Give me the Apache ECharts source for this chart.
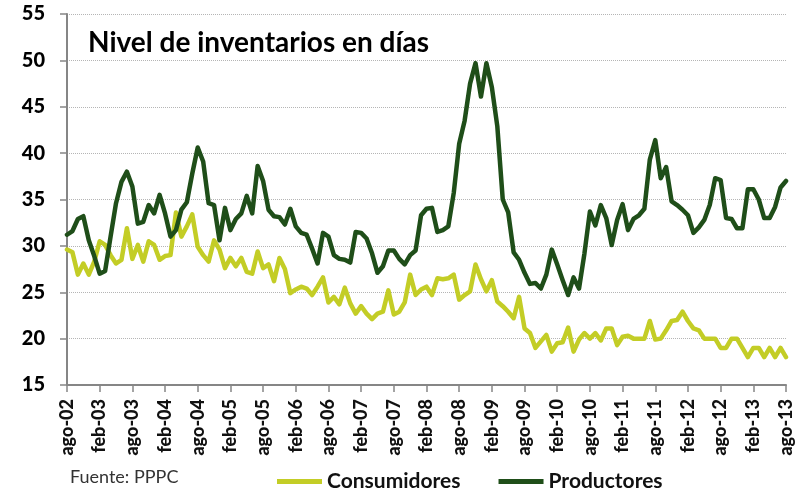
<!DOCTYPE html>
<html>
<head>
<meta charset="utf-8">
<title>Nivel de inventarios en días</title>
<script src="https://cdn.jsdelivr.net/npm/echarts@6/dist/echarts.min.js"></script>
<style>
  html, body { margin: 0; padding: 0; background: #fff; }
  #chart { width: 807px; height: 490px; }
</style>
</head>
<body>
<div id="chart"></div>
<script>
// meses en español, serie mensual ago-02 .. ago-13
const monthNames = ['ene', 'feb', 'mar', 'abr', 'may', 'jun', 'jul', 'ago', 'sep', 'oct', 'nov', 'dic']
const startYear = 2002
const startMonth = 7 // ago
const monthCount = 133

const consumidores = [
  29.6, 29.3, 26.9, 28.1, 26.9, 28.3, 30.5, 30.1, 29.0, 28.1,
  28.5, 31.9, 28.6, 30.1, 28.3, 30.5, 30.1, 28.5, 28.9, 29.0,
  33.6, 31.0, 32.1, 33.4, 29.9, 29.0, 28.3, 30.6, 29.6, 27.6,
  28.7, 27.8, 28.7, 27.2, 27.0, 29.4, 27.6, 28.0, 26.2, 28.7,
  27.5, 24.9, 25.3, 25.6, 25.4, 24.7, 25.6, 26.6, 23.9, 24.5,
  23.7, 25.5, 23.8, 22.7, 23.5, 22.7, 22.1, 22.7, 22.9, 25.2,
  22.6, 22.9, 23.9, 26.9, 24.7, 25.3, 25.6, 24.7, 26.5, 26.4,
  26.5, 26.9, 24.2, 24.7, 25.1, 28.0, 26.4, 25.1, 26.3, 24.0,
  23.5, 22.9, 22.2, 24.5, 21.1, 20.6, 19.0, 19.7, 20.4, 18.6,
  19.5, 19.6, 21.2, 18.6, 19.9, 20.6, 20.0, 20.6, 19.8, 21.1,
  21.1, 19.3, 20.2, 20.3, 20.0, 20.0, 20.0, 21.9, 19.9, 20.0,
  20.9, 21.9, 22.0, 22.9, 21.9, 21.1, 20.9, 20.0, 20.0, 20.0,
  19.0, 19.0, 20.0, 20.0, 19.0, 18.0, 19.0, 19.0, 18.0, 19.0,
  18.0, 19.0, 18.0
]

const productores = [
  31.2, 31.6, 32.9, 33.2, 30.6, 28.9, 27.0, 27.3, 31.0, 34.6,
  36.9, 38.0, 36.4, 32.4, 32.6, 34.4, 33.5, 35.5, 33.5, 31.0,
  31.7, 33.9, 34.7, 37.8, 40.6, 39.1, 34.6, 34.4, 30.6, 34.1,
  31.7, 32.9, 33.5, 35.4, 33.5, 38.6, 37.0, 33.9, 33.2, 33.1,
  32.3, 34.0, 32.1, 31.4, 31.2, 29.7, 28.1, 31.4, 31.0, 29.0,
  28.6, 28.5, 28.2, 31.5, 31.4, 30.8, 29.2, 27.1, 27.8, 29.5,
  29.5, 28.6, 28.0, 29.0, 29.5, 33.3, 34.0, 34.1, 31.5, 31.7,
  32.1, 35.7, 41.0, 43.5, 47.5, 49.7, 46.1, 49.7, 47.1, 42.9,
  35.0, 33.6, 29.3, 28.5, 27.1, 25.9, 26.0, 25.4, 26.9, 29.6,
  28.0, 26.3, 24.7, 26.6, 25.4, 29.2, 33.7, 32.2, 34.4, 33.0,
  30.1, 32.8, 34.5, 31.7, 32.9, 33.3, 34.0, 39.3, 41.4, 37.3,
  38.5, 34.8, 34.4, 33.9, 33.3, 31.4, 32.0, 32.8, 34.4, 37.3,
  37.1, 33.0, 32.9, 31.9, 31.9, 36.1, 36.1, 35.0, 33.0, 33.0,
  34.2, 36.3, 37.0
]

const categories = []
for (let i = 0; i < monthCount; i++) {
  const m = (startMonth + i) % 12
  const y = startYear + Math.floor((startMonth + i) / 12)
  categories.push(monthNames[m] + '-' + String(y % 100).padStart(2, '0'))
}

const chart = echarts.init(document.getElementById('chart'), null, { renderer: 'canvas' })
const axisGrey = '#868686'

chart.setOption({
  animation: false,
  textStyle: { fontFamily: 'Lato' },
  color: ['#c3cd26', '#1f4e19'],
  title: {
    text: 'Nivel de inventarios en días',
    left: 83,
    top: 24,
    textStyle: { fontFamily: 'Lato', fontWeight: 'bold', fontSize: 28, color: '#000' }
  },
  legend: {
    data: ['Consumidores', 'Productores'],
    left: 272,
    top: 466,
    icon: 'rect',
    itemWidth: 45,
    itemHeight: 5,
    itemGap: 38,
    textStyle: { fontFamily: 'Lato', fontWeight: 'bold', fontSize: 21, color: '#111' }
  },
  graphic: [{
    type: 'text',
    left: 70,
    top: 468,
    style: { text: 'Fuente: PPPC', fontFamily: 'Lato', fontSize: 18, fill: '#333' }
  }],
  grid: { left: 67, right: 21, top: 14, bottom: 105, containLabel: false },
  xAxis: {
    type: 'category',
    data: categories,
    boundaryGap: false,
    axisLine: { lineStyle: { color: axisGrey, width: 2 } },
    axisTick: { interval: 5, length: 7, lineStyle: { color: axisGrey, width: 1.5 } },
    axisLabel: {
      interval: 5,
      rotate: 90,
      margin: 14,
      fontFamily: 'Lato',
      fontWeight: 900,
      fontSize: 18,
      color: '#111'
    },
    splitLine: { show: false }
  },
  yAxis: {
    type: 'value',
    min: 15,
    max: 55,
    interval: 5,
    axisLine: { show: true, lineStyle: { color: axisGrey, width: 2 } },
    axisTick: { show: true, length: 7, lineStyle: { color: axisGrey, width: 1.5 } },
    axisLabel: {
      margin: 22,
      fontFamily: 'Lato',
      fontWeight: 900,
      fontSize: 20,
      color: '#000'
    },
    splitLine: { lineStyle: { type: 'dotted', color: '#b5b5b5', width: 1 } }
  },
  series: [
    {
      name: 'Consumidores',
      type: 'line',
      data: consumidores,
      showSymbol: false,
      lineStyle: { width: 4.5, join: 'round', cap: 'round' }
    },
    {
      name: 'Productores',
      type: 'line',
      data: productores,
      showSymbol: false,
      lineStyle: { width: 4.5, join: 'round', cap: 'round' }
    }
  ]
})
</script>
</body>
</html>
